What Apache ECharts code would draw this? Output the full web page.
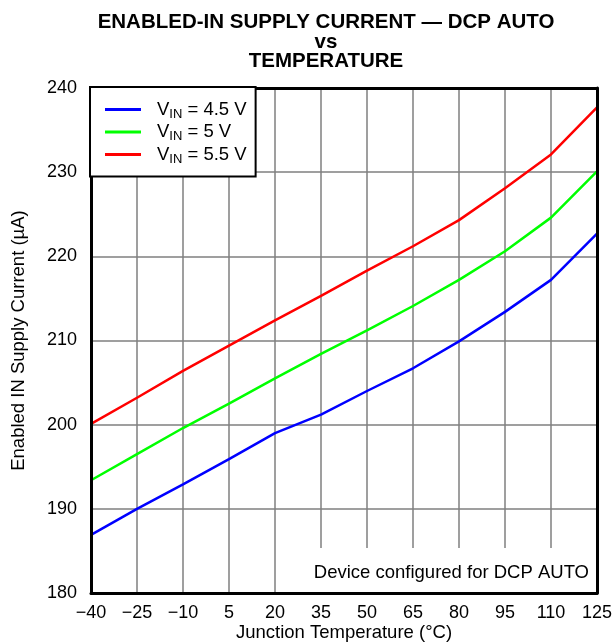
<!DOCTYPE html>
<html>
<head>
<meta charset="utf-8">
<script src="https://cdn.jsdelivr.net/npm/echarts@6/dist/echarts.min.js"></script>
<style>
  html, body { margin: 0; padding: 0; background: #fff; }
  #chart { width: 614px; height: 642px; }
</style>
</head>
<body>
<div id="chart"></div>
<script>
// Junction temperature (°C) at which the supply current was measured
const temperatures = [-40, -25, -10, 5, 20, 35, 50, 65, 80, 95, 110, 125];

// Enabled IN supply current (µA) for each input voltage
const current45 = [186.9, 190.0, 192.9, 195.9, 199.0, 201.2, 204.0, 206.7, 209.9, 213.4, 217.2, 222.7];
const current50 = [193.4, 196.5, 199.6, 202.5, 205.5, 208.4, 211.2, 214.1, 217.2, 220.6, 224.6, 230.1];
const current55 = [200.1, 203.2, 206.4, 209.4, 212.4, 215.3, 218.3, 221.2, 224.3, 228.1, 232.1, 237.7];

const seriesNames = ['4.5', '5', '5.5'];
const yTicks = [180, 190, 200, 210, 220, 230, 240];

const FONT = "'Liberation Sans', Arial, Helvetica, sans-serif";

const chart = echarts.init(document.getElementById('chart'), null, { renderer: 'canvas' });

function line(name, values, color) {
  return {
    name: name,
    type: 'line',
    data: values,
    xAxisIndex: 0,
    yAxisIndex: 0,
    showSymbol: false,
    smooth: false,
    lineStyle: { color: color, width: 2.5 },
    itemStyle: { color: color },
    z: 3
  };
}

// frame axes: only their black axis lines are drawn, above the grid lines
const frameLine = { show: true, lineStyle: { color: '#000', width: 3 } };

chart.setOption({
  animation: false,
  backgroundColor: '#fff',
  title: {
    text: 'ENABLED-IN SUPPLY CURRENT — DCP AUTO\nvs\nTEMPERATURE',
    left: 321,
    top: 8,
    textAlign: 'center',
    textStyle: {
      fontFamily: FONT,
      fontWeight: 'bold',
      fontSize: 20.5,
      lineHeight: 19.5,
      color: '#000'
    }
  },
  grid: {
    left: 91,
    right: 17,
    top: 88,
    bottom: 49,
    outerBoundsMode: 'none',
    containLabel: false,
    show: true,
    borderWidth: 0,
    backgroundColor: '#fff'
  },
  legend: {
    orient: 'vertical',
    left: 90,
    top: 87,
    padding: [13, 9, 11, 15],
    itemGap: 2,
    itemWidth: 36,
    itemHeight: 3,
    icon: 'rect',
    backgroundColor: '#fff',
    borderColor: '#000',
    borderWidth: 2,
    borderRadius: 0,
    selectedMode: false,
    z: 10,
    data: seriesNames,
    formatter: function (name) {
      return '{m|V}{s|IN}{m| = ' + name + ' V}';
    },
    textStyle: {
      fontFamily: FONT,
      fontSize: 18.5,
      color: '#000',
      padding: [0, 0, 0, 11],
      rich: {
        m: { fontFamily: FONT, fontSize: 18.5, color: '#000', lineHeight: 22 },
        s: { fontFamily: FONT, fontSize: 13, color: '#000', lineHeight: 12, verticalAlign: 'bottom' }
      }
    }
  },
  xAxis: [
    {
      type: 'category',
      data: temperatures.map(String),
      boundaryGap: false,
      name: 'Junction Temperature (°C)',
      nameLocation: 'middle',
      nameGap: 30,
      nameMoveOverlap: false,
      nameTextStyle: { fontFamily: FONT, fontSize: 18.5, color: '#000' },
      axisLine: { show: false },
      axisTick: { show: false },
      axisLabel: {
        interval: 0,
        margin: 11,
        fontFamily: FONT,
        fontSize: 18,
        color: '#000',
        formatter: v => String(v).replace('-', '\u2212')
      },
      splitLine: { show: true, interval: 0, lineStyle: { color: '#7f7f7f', width: 1.5 } }
    },
    {
      type: 'category', data: temperatures.map(String), boundaryGap: false,
      position: 'bottom', z: 8, axisLine: frameLine,
      axisTick: { show: false }, axisLabel: { show: false }, splitLine: { show: false }
    },
    {
      type: 'category', data: temperatures.map(String), boundaryGap: false,
      position: 'top', z: 8, axisLine: frameLine,
      axisTick: { show: false }, axisLabel: { show: false }, splitLine: { show: false }
    }
  ],
  yAxis: [
    {
      type: 'value',
      min: yTicks[0],
      max: yTicks[yTicks.length - 1],
      interval: 10,
      name: 'Enabled IN Supply Current (µA)',
      nameLocation: 'middle',
      nameGap: 63,
      nameMoveOverlap: false,
      nameTextStyle: { fontFamily: FONT, fontSize: 18.5, color: '#000' },
      axisLine: { show: false },
      axisTick: { show: false },
      axisLabel: {
        margin: 14,
        fontFamily: FONT,
        fontSize: 18,
        color: '#000'
      },
      splitLine: { show: true, lineStyle: { color: '#7f7f7f', width: 1.5 } }
    },
    {
      type: 'value', min: yTicks[0], max: yTicks[yTicks.length - 1], interval: 10,
      position: 'left', z: 8, axisLine: frameLine,
      axisTick: { show: false }, axisLabel: { show: false }, splitLine: { show: false }
    },
    {
      type: 'value', min: yTicks[0], max: yTicks[yTicks.length - 1], interval: 10,
      position: 'right', z: 8, axisLine: frameLine,
      axisTick: { show: false }, axisLabel: { show: false }, splitLine: { show: false }
    }
  ],
  graphic: [
    {
      type: 'group',
      right: 19,
      bottom: 50,
      children: [
        {
          type: 'rect',
          z: 5,
          shape: { x: 0, y: 0, width: 295, height: 44 },
          style: { fill: '#fff' }
        },
        {
          type: 'text',
          z: 6,
          x: 289,
          y: 25,
          style: {
            text: 'Device configured for DCP AUTO',
            font: "18.5px 'Liberation Sans', Arial, sans-serif",
            fill: '#000',
            textAlign: 'right',
            textVerticalAlign: 'middle'
          }
        }
      ]
    }
  ],
  series: [
    line('4.5', current45, '#0000ff'),
    line('5', current50, '#00ff00'),
    line('5.5', current55, '#ff0000')
  ]
});
</script>
</body>
</html>
